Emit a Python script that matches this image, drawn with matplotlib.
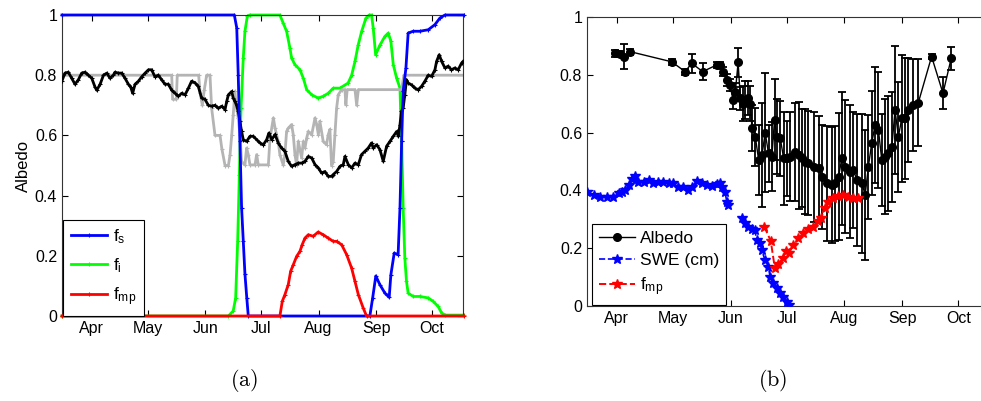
import matplotlib
matplotlib.use("Agg")
import matplotlib.pyplot as plt
import numpy as np

plt.rcParams['font.family'] = ['Liberation Sans', 'DejaVu Sans']
plt.rcParams['font.size'] = 11

# ---- month ticks (day of year) ----
month_days = [91, 121, 152, 182, 213, 244, 274]
month_names = ['Apr', 'May', 'Jun', 'Jul', 'Aug', 'Sep', 'Oct']

# ---- panel (a): surface fractions and albedo ----
fs_day = [75, 167.7, 169.0, 169.8, 170.7, 171.6, 172.5, 173.4, 174.4, 175.2, 240.6, 242.1,
          243.8, 246.0, 248.7, 251.0, 251.9, 253.7, 255.8, 256.8, 257.7, 258.5, 260.0, 261.2,
          263.9, 267.5, 272.0, 275.6, 278.3, 281.0, 291]
fs_val = [1.0, 1.0, 0.957, 0.80, 0.58, 0.36, 0.25, 0.14, 0.06, 0.0, 0.0, 0.06,
          0.133, 0.104, 0.076, 0.062, 0.137, 0.209, 0.204, 0.36, 0.58, 0.746, 0.824, 0.94,
          0.946, 0.946, 0.951, 0.968, 0.99, 1.0, 1.0]

fi_day = [75, 164.5, 167.1, 168.4, 169.5, 170.4, 171.3, 172.5, 173.4, 174.7, 176.1, 192.2,
          194.0, 195.8, 197.6, 198.5, 200.3, 203.0, 204.8, 206.6, 209.3, 212.8, 215.5, 218.2,
          220.9, 224.5, 228.9, 230.8, 232.6, 234.3, 236.2, 238.5, 240.3, 241.5, 242.4, 243.7,
          246.0, 248.7, 250.5, 251.9, 253.2, 255.0, 256.8, 257.1, 257.7, 258.5, 259.4, 260.3,
          261.2, 263.9, 267.5, 272.0, 274.6, 277.3, 279.2, 281.0, 291]
fi_val = [0.0, 0.0, 0.017, 0.06, 0.25, 0.47, 0.69, 0.857, 0.946, 0.996, 1.0, 1.0,
          0.973, 0.946, 0.89, 0.857, 0.835, 0.818, 0.79, 0.752, 0.735, 0.724, 0.73, 0.74,
          0.757, 0.757, 0.774, 0.80, 0.846, 0.90, 0.946, 0.99, 1.0, 1.0, 0.957, 0.868,
          0.90, 0.929, 0.94, 0.913, 0.835, 0.79, 0.757, 0.69, 0.58, 0.36, 0.193, 0.115,
          0.076, 0.065, 0.065, 0.06, 0.049, 0.032, 0.01, 0.003, 0.003]

fmp_day = [75, 192.2, 193.5, 194.9, 196.7, 198.0, 199.4, 201.2, 203.0, 204.2, 205.7, 207.5,
           210.1, 212.8, 215.5, 218.2, 220.9, 222.7, 225.4, 228.1, 230.8, 232.6, 234.4, 237.0,
           238.8, 291]
fmp_val = [0.0, 0.0, 0.049, 0.071, 0.104, 0.149, 0.17, 0.198, 0.215, 0.237, 0.259, 0.27,
           0.265, 0.279, 0.27, 0.259, 0.248, 0.248, 0.237, 0.204, 0.159, 0.115, 0.071, 0.027,
           0.0, 0.0]

model_day = [75, 134.0, 134.5, 136.5, 137.0, 148.5, 149.3, 150.5, 151.5, 152.8, 154.6, 155.5,
             157.3, 160.0, 161.0, 162.7, 164.5, 165.4, 166.3, 167.1, 168.0, 168.9, 169.8, 170.7,
             171.6, 173.4, 174.3, 175.2, 176.1, 178.8, 179.7, 180.6, 186.0, 186.9, 188.7, 189.6,
             191.3, 192.2, 194.0, 194.9, 195.8, 196.7, 198.5, 199.4, 200.3, 201.2, 202.1, 203.9,
             204.8, 205.7, 206.6, 207.5, 209.3, 211.1, 212.0, 212.9, 213.7, 215.5, 217.3, 218.2,
             219.1, 220.0, 220.9, 221.8, 222.7, 223.6, 225.4, 227.2, 227.7, 228.4, 232.6, 233.5,
             234.4, 257.6, 258.9, 291]
model_val = [0.80, 0.80, 0.72, 0.72, 0.80, 0.80, 0.74, 0.70, 0.75, 0.80, 0.80, 0.69,
             0.60, 0.60, 0.555, 0.50, 0.50, 0.536, 0.602, 0.668, 0.746, 0.69, 0.658, 0.602,
             0.513, 0.502, 0.558, 0.536, 0.502, 0.502, 0.536, 0.502, 0.502, 0.591, 0.658, 0.624,
             0.58, 0.536, 0.502, 0.536, 0.613, 0.624, 0.636, 0.602, 0.536, 0.502, 0.58, 0.525,
             0.58, 0.558, 0.591, 0.613, 0.602, 0.658, 0.636, 0.602, 0.647, 0.58, 0.569, 0.602,
             0.62, 0.50, 0.513, 0.602, 0.69, 0.735, 0.752, 0.752, 0.702, 0.752, 0.752, 0.70,
             0.752, 0.752, 0.80, 0.80]

obs_day = [74.9, 76.6, 78.4, 80.2, 82.0, 83.8, 85.6, 87.4, 89.2, 91.0, 92.8, 93.7,
           95.5, 97.3, 99.1, 100.8, 102.6, 103.5, 105.3, 107.1, 108.9, 110.7, 112.0, 113.0,
           114.3, 116.1, 117.9, 119.7, 121.5, 123.2, 125.0, 126.8, 128.6, 130.4, 132.2, 134.0,
           135.8, 137.6, 139.4, 141.2, 143.0, 144.7, 146.5, 148.3, 150.1, 151.9, 153.7, 155.5,
           157.3, 159.1, 160.9, 162.7, 163.6, 164.5, 166.3, 167.1, 168.0, 168.9, 169.8, 170.7,
           171.6, 172.5, 174.3, 176.1, 177.9, 179.7, 181.5, 183.3, 185.1, 186.3, 187.8, 189.6,
           191.3, 193.1, 194.9, 196.7, 198.5, 200.3, 202.1, 203.9, 205.7, 207.5, 209.3, 211.1,
           212.9, 214.6, 216.4, 218.2, 220.0, 220.9, 222.7, 224.5, 226.3, 227.2, 229.0, 230.8,
           232.6, 234.4, 236.1, 237.9, 239.7, 241.5, 242.4, 244.2, 246.0, 247.8, 249.6, 251.4,
           253.2, 255.0, 255.9, 256.8, 257.6, 258.5, 259.4, 260.3, 261.2, 263.0, 264.8, 266.6,
           268.4, 270.2, 272.0, 273.8, 275.6, 276.5, 277.9, 279.2, 281.0, 282.7, 284.5, 286.3,
           288.1, 289.9, 290.8]
obs_val = [0.78, 0.807, 0.81, 0.79, 0.77, 0.785, 0.807, 0.81, 0.80, 0.79, 0.76, 0.75,
           0.77, 0.80, 0.807, 0.79, 0.80, 0.81, 0.807, 0.807, 0.79, 0.77, 0.76, 0.74,
           0.77, 0.78, 0.795, 0.807, 0.818, 0.818, 0.795, 0.80, 0.785, 0.77, 0.77, 0.75,
           0.74, 0.73, 0.74, 0.735, 0.757, 0.78, 0.775, 0.763, 0.724, 0.72, 0.70, 0.697,
           0.70, 0.69, 0.697, 0.686, 0.713, 0.735, 0.746, 0.724, 0.713, 0.70, 0.68, 0.647,
           0.613, 0.586, 0.58, 0.597, 0.597, 0.586, 0.575, 0.569, 0.586, 0.608, 0.586, 0.603,
           0.575, 0.558, 0.547, 0.514, 0.497, 0.503, 0.508, 0.508, 0.514, 0.53, 0.525, 0.503,
           0.492, 0.475, 0.48, 0.464, 0.464, 0.47, 0.48, 0.497, 0.503, 0.53, 0.503, 0.492,
           0.508, 0.503, 0.536, 0.547, 0.558, 0.575, 0.558, 0.569, 0.553, 0.514, 0.564, 0.58,
           0.597, 0.613, 0.597, 0.636, 0.68, 0.69, 0.735, 0.785, 0.774, 0.768, 0.757, 0.752,
           0.763, 0.78, 0.80, 0.796, 0.818, 0.846, 0.868, 0.846, 0.824, 0.83, 0.818, 0.824,
           0.818, 0.84, 0.846]

# ---- panel (b): measured albedo, SWE, melt pond fraction ----
alb_day = [90.1, 92.8, 95.0, 98.2, 120.4, 127.6, 131.1, 137.0, 144.5, 146.3, 148.1, 149.9,
           151.6, 153.3, 154.5, 156.0, 157.2, 158.6, 159.9, 161.4, 162.6, 163.4, 165.2, 167.0,
           168.8, 170.5, 172.3, 174.1, 175.5, 176.8, 178.6, 180.4, 182.1, 183.9, 186.6, 188.4,
           190.2, 191.9, 193.7, 196.4, 199.1, 200.9, 203.5, 206.2, 208.0, 209.8, 211.6, 213.4,
           216.0, 217.8, 219.6, 222.3, 224.1, 225.8, 227.6, 229.4, 231.2, 233.0, 234.8, 236.5,
           238.4, 240.1, 241.9, 243.7, 245.5, 247.2, 249.9, 252.6, 259.7, 265.8, 270.2]
alb_val = [0.874, 0.872, 0.862, 0.88, 0.845, 0.811, 0.84, 0.811, 0.834, 0.834, 0.811, 0.782,
           0.765, 0.713, 0.741, 0.843, 0.718, 0.70, 0.713, 0.72, 0.70, 0.615, 0.586, 0.505,
           0.522, 0.60, 0.528, 0.517, 0.644, 0.586, 0.58, 0.511, 0.511, 0.517, 0.533, 0.522,
           0.511, 0.50, 0.494, 0.482, 0.476, 0.447, 0.424, 0.419, 0.424, 0.447, 0.511, 0.482,
           0.465, 0.47, 0.436, 0.424, 0.385, 0.482, 0.563, 0.626, 0.609, 0.505, 0.517, 0.528,
           0.551, 0.678, 0.586, 0.649, 0.649, 0.678, 0.695, 0.704, 0.863, 0.736, 0.857]
alb_err = [0.012, 0.01, 0.043, 0.01, 0.01, 0.01, 0.033, 0.03, 0.01, 0.01, 0.015, 0.02,
           0.02, 0.03, 0.03, 0.05, 0.04, 0.06, 0.065, 0.06, 0.06, 0.08, 0.1, 0.12,
           0.18, 0.207, 0.1, 0.12, 0.14, 0.13, 0.13, 0.16, 0.13, 0.155, 0.17, 0.185,
           0.17, 0.18, 0.18, 0.19, 0.18, 0.18, 0.2, 0.2, 0.2, 0.22, 0.23, 0.23,
           0.23, 0.2, 0.23, 0.24, 0.225, 0.18, 0.18, 0.2, 0.2, 0.16, 0.2, 0.2,
           0.19, 0.22, 0.19, 0.22, 0.21, 0.18, 0.16, 0.15, 0.01, 0.055, 0.04]

swe_day = [75.0, 78.5, 82.1, 85.7, 89.2, 91.9, 93.7, 95.5, 97.3, 99.0, 100.8, 102.6,
           105.3, 108.0, 110.6, 113.3, 116.0, 118.7, 121.3, 124.0, 126.7, 129.4, 131.1, 133.8,
           136.5, 139.2, 141.8, 144.5, 146.3, 147.2, 149.0, 149.9, 150.8, 154.0, 157.9, 159.7,
           161.5, 163.2, 165.0, 165.9, 167.7, 168.6, 170.4, 172.2, 173.1, 174.8, 176.6, 178.4,
           180.2, 182.0, 183.2]
swe_val = [0.395, 0.384, 0.376, 0.376, 0.378, 0.39, 0.395, 0.401, 0.418, 0.441, 0.449, 0.43,
           0.43, 0.436, 0.424, 0.43, 0.43, 0.424, 0.424, 0.413, 0.413, 0.401, 0.413, 0.433,
           0.424, 0.418, 0.415, 0.421, 0.424, 0.413, 0.395, 0.361, 0.35, np.nan, 0.303, 0.286,
           0.274, 0.268, 0.263, 0.228, 0.217, 0.194, 0.159, 0.136, 0.102, 0.079, 0.061, 0.044,
           0.03, 0.015, 0.003]

pond_day = [170.0, 173.5, 175.7, 177.5, 180.2, 181.5, 183.0, 185.5, 188.2, 191.0, 193.6,
            196.2, 198.9, 200.5, 202.7, 204.4, 206.9, 209.6, 212.3, 215.0, 217.6, 220.5]
pond_val = [0.275, 0.225, 0.13, 0.147, 0.165, 0.19, 0.183, 0.21, 0.235, 0.252, 0.265,
            0.275, 0.295, 0.305, 0.34, 0.36, 0.372, 0.38, 0.384, 0.376, 0.372, 0.372]

yticks = [0, 0.2, 0.4, 0.6, 0.8, 1]
ytick_labels = ['0', '0.2', '0.4', '0.6', '0.8', '1']

fig = plt.figure(figsize=(9.81, 4.01), dpi=100)
ax1 = fig.add_axes([62 / 981, 85 / 401, 401 / 981, 301 / 401])
ax2 = fig.add_axes([587 / 981, 95 / 401, 403 / 981, 289 / 401])

# panel (a)
lw = 2.0
ax1.plot(fs_day, fs_val, '-+', color='#0000ff', lw=lw, ms=3, mew=0.8, label=r'$\mathregular{f_s}$', clip_on=False, zorder=3)
ax1.plot(fi_day, fi_val, '-+', color='#00ff00', lw=lw, ms=3, mew=0.8, label=r'$\mathregular{f_i}$', clip_on=False, zorder=2)
ax1.plot(fmp_day, fmp_val, '-+', color='#ff0000', lw=lw, ms=3, mew=0.8, label=r'$\mathregular{f_{mp}}$', clip_on=False, zorder=4)
ax1.plot(model_day, model_val, '-+', color='#b4b4b4', lw=lw, ms=3, mew=0.8, zorder=2.5)
ax1.plot(obs_day, obs_val, '-+', color='black', lw=lw, ms=3, mew=0.8, zorder=2.6)

ax1.set_xlim(75, 290.7)
ax1.set_ylim(0, 1)
ax1.set_ylabel('Albedo', fontsize=12, labelpad=3)
leg1 = ax1.legend(loc='lower left', bbox_to_anchor=(0.003, 0.0), borderaxespad=0,
                  fancybox=False, framealpha=1, edgecolor='black', fontsize=12.5,
                  handlelength=2.1, labelspacing=0.6, handletextpad=0.3, borderpad=0.45)
leg1.get_frame().set_linewidth(0.8)

# panel (b)
ax2.errorbar(alb_day, alb_val, yerr=alb_err, fmt='none', ecolor='black', elinewidth=1.3,
             capsize=3, capthick=1.3, zorder=2)
ax2.plot(alb_day, alb_val, '-o', color='black', lw=1, ms=5.5, label='Albedo', zorder=3)
ax2.plot(swe_day, swe_val, '--*', color='#0000ff', lw=1.2, ms=7, label='SWE (cm)', zorder=3)
ax2.plot(pond_day, pond_val, '--*', color='#ff0000', lw=1.4, ms=7, label=r'$\mathregular{f_{mp}}$', zorder=3)
ax2.set_xlim(75, 291)
ax2.set_ylim(0, 1)
leg2 = ax2.legend(loc='lower left', bbox_to_anchor=(5 / 403, 1 / 289), borderaxespad=0,
                  fancybox=False, framealpha=1, edgecolor='black', fontsize=12.5,
                  handlelength=2.1, labelspacing=0.42, handletextpad=0.25, borderpad=0.4,
                  numpoints=1)
leg2.get_frame().set_linewidth(0.8)

for ax in (ax1, ax2):
    ax.set_xticks(month_days)
    ax.set_xticklabels(month_names)
    ax.set_yticks(yticks)
    ax.set_yticklabels(ytick_labels)
    ax.tick_params(direction='in', top=True, right=True, length=4, width=0.8, labelsize=11.5)
    for sp in ax.spines.values():
        sp.set_linewidth(0.8)
        sp.set_color('#333333')

fig.text(0.2487, 0.052, r'$\mathrm{(a)}$', math_fontfamily='cm', fontsize=16, ha='center', va='center')
fig.text(0.788, 0.052, r'$\mathrm{(b)}$', math_fontfamily='cm', fontsize=16, ha='center', va='center')

fig.savefig('out.png', dpi=100)
